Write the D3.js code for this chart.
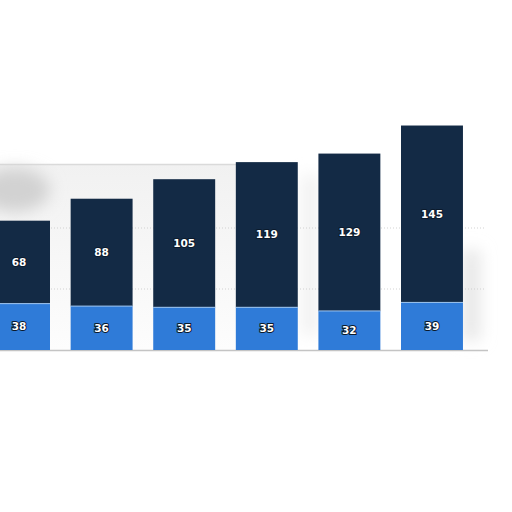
<!DOCTYPE html>
<html>
<head>
<script src="https://cdn.jsdelivr.net/npm/d3@7"></script>
<style>
  body { margin: 0; background: #fff; }
</style>
</head>
<body>
<script>
var categories = ["c1", "c2", "c3", "c4", "c5", "c6"];
var lower = [38, 36, 35, 35, 32, 39];
var upper = [68, 88, 105, 119, 129, 145];
var gridTicks = [50, 100];

var w = 512, h = 512;
var base = 350;

var svg = d3.select("body").append("svg")
  .attr("width", w)
  .attr("height", h);

var defs = svg.append("defs");
defs.append("filter").attr("id", "blur")
  .attr("x", "-50%").attr("y", "-50%").attr("width", "200%").attr("height", "200%")
  .append("feGaussianBlur").attr("stdDeviation", 8);
var grad = defs.append("linearGradient").attr("id", "fade")
  .attr("x1", 0).attr("y1", 0).attr("x2", 0).attr("y2", 1);
grad.append("stop").attr("offset", "0%").attr("stop-color", "#f1f1f1");
grad.append("stop").attr("offset", "100%").attr("stop-color", "#fdfdfd");

var xScale = d3.scaleBand()
  .domain(categories)
  .range([-32.6, 483.6])
  .paddingInner(0.25)
  .paddingOuter(0.25);

var yScale = d3.scaleLinear()
  .domain([0, 200])
  .range([base, base - 244]);

// faint grey backdrop behind the left part of the plot
svg.append("rect")
  .attr("x", 0).attr("y", 164)
  .attr("width", 236).attr("height", base - 164)
  .attr("fill", "url(#fade)");
svg.append("line")
  .attr("x1", 0).attr("x2", 236)
  .attr("y1", 164.5).attr("y2", 164.5)
  .attr("stroke", "#dadada")
  .attr("stroke-width", 1.5);
var bg = svg.append("g").attr("filter", "url(#blur)");
bg.append("ellipse")
  .attr("cx", 15).attr("cy", 190)
  .attr("rx", 35).attr("ry", 22)
  .attr("fill", "#d2d2d2");
bg.append("rect")
  .attr("x", 462).attr("y", 250)
  .attr("width", 18).attr("height", 90)
  .attr("fill", "#e6e6e6");
bg.append("rect")
  .attr("x", 304).attr("y", 175)
  .attr("width", 12).attr("height", 160)
  .attr("fill", "#ececec");

// gridlines
svg.append("g")
  .selectAll("line")
  .data(gridTicks)
  .enter()
  .append("line")
  .attr("x1", 0)
  .attr("x2", 485)
  .attr("y1", function (d) { return yScale(d); })
  .attr("y2", function (d) { return yScale(d); })
  .attr("stroke", "#c8c8c8")
  .attr("stroke-width", 0.8)
  .attr("stroke-dasharray", "1,2");

// baseline
svg.append("line")
  .attr("x1", 0).attr("x2", 488)
  .attr("y1", base + 0.5).attr("y2", base + 0.5)
  .attr("stroke", "#c4c4c4")
  .attr("stroke-width", 1.5);

var bars = svg.append("g")
  .selectAll("g")
  .data(categories)
  .enter()
  .append("g");

bars.append("rect")
  .attr("x", function (d) { return xScale(d); })
  .attr("width", xScale.bandwidth())
  .attr("y", function (d, i) { return yScale(lower[i] + upper[i]); })
  .attr("height", function (d, i) { return yScale(lower[i]) - yScale(lower[i] + upper[i]); })
  .attr("fill", "#132a45");

bars.append("rect")
  .attr("x", function (d) { return xScale(d); })
  .attr("width", xScale.bandwidth())
  .attr("y", function (d, i) { return yScale(lower[i]); })
  .attr("height", function (d, i) { return yScale(0) - yScale(lower[i]); })
  .attr("fill", "#2f7bd8");

// thin light edge between the two segments
bars.append("line")
  .attr("x1", function (d) { return xScale(d); })
  .attr("x2", function (d) { return xScale(d) + xScale.bandwidth(); })
  .attr("y1", function (d, i) { return yScale(lower[i]); })
  .attr("y2", function (d, i) { return yScale(lower[i]); })
  .attr("stroke", "#9cc3ee")
  .attr("stroke-width", 1);

function label(sel, yFn, txtFn) {
  sel.append("text")
    .attr("x", function (d) { return xScale(d) + xScale.bandwidth() / 2; })
    .attr("y", yFn)
    .attr("dy", "0.35em")
    .attr("text-anchor", "middle")
    .attr("font-family", "DejaVu Sans, sans-serif")
    .attr("font-weight", "bold")
    .attr("font-size", 10.5)
    .attr("fill", "#fff")
    .attr("stroke", "#0b1a2c")
    .attr("stroke-width", 2)
    .attr("paint-order", "stroke")
    .text(txtFn);
}

label(bars,
  function (d, i) { return (yScale(lower[i]) + yScale(lower[i] + upper[i])) / 2; },
  function (d, i) { return upper[i]; });
label(bars,
  function (d, i) { return (yScale(0) + yScale(lower[i])) / 2; },
  function (d, i) { return lower[i]; });
</script>
</body>
</html>
